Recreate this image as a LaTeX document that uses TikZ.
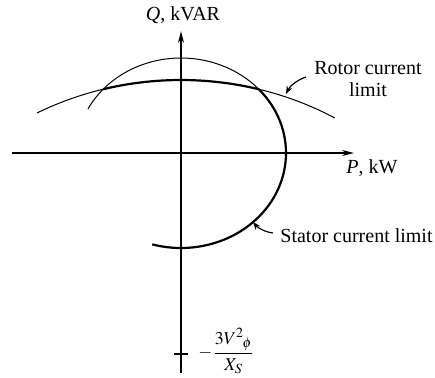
\documentclass[tikz,border=0pt]{standalone}
\usepackage{mathptmx}
\usepackage{fontspec}
\setmainfont{Liberation Serif}
\usetikzlibrary{arrows.meta}
\begin{document}
\begin{tikzpicture}[x=0.5pt,y=0.5pt,
  axis/.style={line width=0.7pt},
  thinc/.style={line width=0.5pt},
  thickc/.style={line width=1.1pt},
  lbl/.style={font=\fontsize{10}{11}\selectfont, inner sep=0pt},
  pointer/.style={line width=0.6pt,-{Stealth[length=4pt,width=3pt]}},
  axtip/.style={-{Stealth[length=6pt,width=3pt]}}]
\useasboundingbox (0,0) rectangle (435,-377);
% axes
\coordinate (O) at (181,-153);
\coordinate (Qtop) at (181,-31);
\coordinate (Qbot) at (181,-373);
\coordinate (Pleft) at (12,-153);
\coordinate (Pright) at (354,-153);
\coordinate (C) at (181,-354);
\coordinate (tl) at (174,-354);
\coordinate (tr) at (188,-354);
\draw[axis,axtip] (Qbot) -- (Qtop);
\draw[axis,axtip] (Pleft) -- (Pright);
\draw[axis] (tl) -- (tr);
% stator current limit (ellipse centred at origin)
\draw[thinc] (O) ++(152.4:52.5pt and 47.5pt)
  arc[start angle=152.4, end angle=42.2, x radius=52.5pt, y radius=47.5pt];
\draw[thickc] (O) ++(42.2:52.5pt and 47.5pt)
  arc[start angle=42.2, end angle=-105.9, x radius=52.5pt, y radius=47.5pt];
% rotor current limit (centred at -3V^2/Xs)
\draw[thinc] (C) ++(118.4:151.4pt and 137pt)
  arc[start angle=118.4, end angle=104.9, x radius=151.4pt, y radius=137pt];
\draw[thickc] (C) ++(104.9:151.4pt and 137pt)
  arc[start angle=104.9, end angle=75.1, x radius=151.4pt, y radius=137pt];
\draw[thinc] (C) ++(75.1:151.4pt and 137pt)
  arc[start angle=75.1, end angle=59.5, x radius=151.4pt, y radius=137pt];
% labels
\node[lbl] (Ql) at (183,-15) {\textit{Q}, kVAR};
\node[lbl,anchor=west] (Pl) at (346,-168) {\textit{P}, kW};
\node[lbl,align=center] (rot) at (368,-79) {Rotor current\\limit};
\node[lbl,anchor=west] (sta) at (280,-236) {Stator current limit};
\node[lbl,anchor=west,font=\fontsize{9}{10}\selectfont] (frac) at (198,-351)
  {$-\displaystyle\frac{3V^{2}{}_{\!\phi}}{X_S}$};
% pointers
\coordinate (ra) at (306,-77);
\coordinate (rb) at (286,-94);
\draw[pointer] (ra) .. controls (297,-80) and (290,-86) .. (rb);
\coordinate (sa) at (273,-233);
\coordinate (sb) at (253,-222);
\draw[pointer] (sa) .. controls (265,-232) and (258,-228) .. (sb);
\end{tikzpicture}
\end{document}
